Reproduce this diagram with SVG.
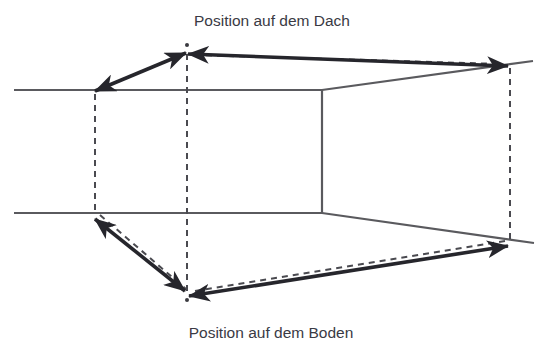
<svg xmlns="http://www.w3.org/2000/svg" width="542" height="347" viewBox="0 0 542 347">
<style>
.edge{stroke:#5a5a5e;stroke-width:2.2;fill:none}
.dash{stroke:#4a4a50;stroke-width:2;fill:none;stroke-dasharray:6 5}
.arr{stroke:#26262c;stroke-width:3.6;fill:none;marker-start:url(#ah);marker-end:url(#ah)}
.lbl{font-family:"Liberation Sans",Arial,sans-serif;font-size:15.5px;fill:#3a3a44;text-anchor:middle}
</style>
<defs>
<marker id="ah" viewBox="0 0 22 18" refX="21" refY="9" markerWidth="22" markerHeight="18" markerUnits="userSpaceOnUse" orient="auto-start-reverse">
<path d="M0,0 L22,9 L0,18 L6,9 Z" fill="#26262c"/>
</marker>
</defs>
<g id="building">
<path class="edge" d="M14,90 H322 L533,61"/>
<path class="edge" d="M14,213 H322 L534,243"/>
<path class="edge" d="M322,90 V213"/>
</g>
<g id="guides">
<path class="dash" d="M95,94 V215"/>
<path class="dash" d="M187,54 V294"/>
<path class="dash" d="M510,68 V240"/>
<circle cx="187" cy="45" r="2" fill="#3a3a40"/>
<circle cx="187" cy="300" r="2" fill="#3a3a40"/>
</g>
<g id="connectors">
<path class="dash" d="M195,55 L500,64"/>
<path class="dash" d="M100,215 L186,289"/>
<path class="dash" d="M195,291 L505,241"/>
<path class="arr" d="M95,91 L186,53"/>
<path class="arr" d="M188,54 L508,66"/>
<path class="arr" d="M95,219 L185,291"/>
<path class="arr" d="M189,296 L508,246"/>
</g>
<g id="label-top"><text class="lbl" x="272" y="26">Position auf dem Dach</text></g>
<g id="label-bottom"><text class="lbl" x="271" y="338">Position auf dem Boden</text></g>
</svg>
